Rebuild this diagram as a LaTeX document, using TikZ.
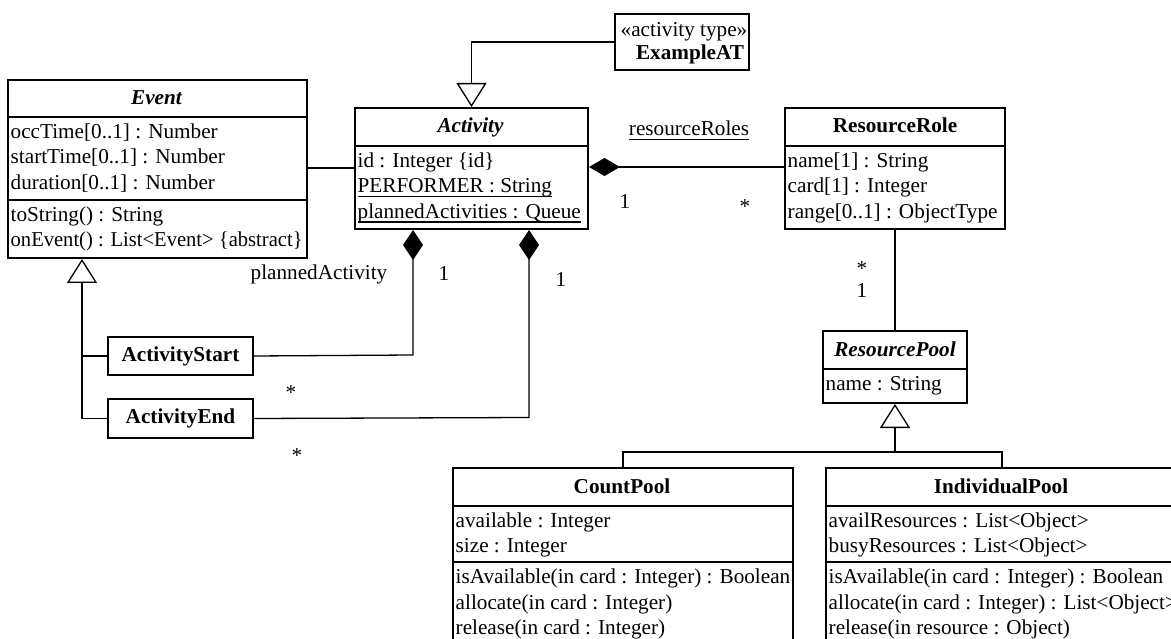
\documentclass[tikz,border=0pt]{standalone}
\usepackage{fontspec}
\setmainfont{Liberation Serif}
\usetikzlibrary{arrows.meta}
\begin{document}
\begin{tikzpicture}[x=1pt,y=-1pt,
  font=\fontsize{21.2}{25.5}\selectfont,
  classbox/.style={draw, line width=2pt, inner sep=0pt, anchor=north west},
  txt/.style={inner sep=0pt, anchor=base west},
  lbl/.style={inner sep=0pt, anchor=base},
  ttl/.style={inner sep=0pt, anchor=base, font=\fontsize{21.2}{25.5}\selectfont\bfseries},
  attl/.style={inner sep=0pt, anchor=base, font=\fontsize{21.2}{25.5}\selectfont\bfseries\itshape},
  sepline/.style={line width=2pt},
  assoc/.style={line width=1.3pt},
  uline/.style={line width=1.3pt},
  gen/.style={assoc, -{Triangle[open,length=24pt,width=30pt]}},
  comp/.style={assoc, {Diamond[length=31pt,width=18pt]}-},
  vcomp/.style={assoc, {Diamond[length=30pt,width=20pt]}-}
]
\useasboundingbox (0,0) rectangle (1171,639);
\clip (0,0) rectangle (1171,639);

% ---------- Event ----------
\node[classbox, minimum width=299pt, minimum height=178pt] (event) at (7,79) {};
\draw[sepline] (event.west |- 0,117) -- (event.east |- 0,117);
\draw[sepline] (event.west |- 0,200) -- (event.east |- 0,200);
\node[attl] (event-t) at (156.5,105) {Event};
\node[txt] (event-a1) at (10.5,138.5) {occTime[0..1] : Number};
\node[txt] (event-a2) at (10.5,164) {startTime[0..1] : Number};
\node[txt] (event-a3) at (10.5,189.5) {duration[0..1] : Number};
\node[txt] (event-m1) at (10.5,221.5) {toString() : String};
\node[txt] (event-m2) at (10.5,247) {\scalebox{0.97}[1]{onEvent() : List<Event> \{abstract\}}};

% ---------- Activity ----------
\node[classbox, minimum width=233pt, minimum height=121pt] (activity) at (354,107) {};
\draw[sepline] (activity.west |- 0,146) -- (activity.east |- 0,146);
\node[attl] (activity-t) at (470.5,133) {Activity};
\node[txt] (activity-a1) at (357.5,167.5) {id : Integer \{id\}};
\node[txt] (activity-a2) at (357.5,193) {PERFORMER : String};
\node[txt] (activity-a3) at (357.5,218.5) {plannedActivities : Queue};
\draw[uline] ([yshift=-3.5pt]activity-a2.base west) -- ([yshift=-3.5pt]activity-a2.base east);
\draw[uline] ([yshift=-3.5pt]activity-a3.base west) -- ([yshift=-3.5pt]activity-a3.base east);

% ---------- ExampleAT ----------
\node[classbox, minimum width=134pt, minimum height=56pt] (exat) at (614,13) {};
\node[lbl] (exat-s) at (684,37) {«activity type»};
\node[ttl] (exat-t) at (690,60) {ExampleAT};

% ---------- ResourceRole ----------
\node[classbox, minimum width=220pt, minimum height=121pt] (resrole) at (784,107) {};
\draw[sepline] (resrole.west |- 0,146) -- (resrole.east |- 0,146);
\node[ttl] (resrole-t) at (895,133) {ResourceRole};
\node[txt] (resrole-a1) at (787.5,167.5) {name[1] : String};
\node[txt] (resrole-a2) at (787.5,193) {card[1] : Integer};
\node[txt] (resrole-a3) at (787.5,218.5) {range[0..1] : ObjectType};

% ---------- ResourcePool ----------
\node[classbox, minimum width=144pt, minimum height=72pt] (rpool) at (822,330) {};
\draw[sepline] (rpool.west |- 0,369) -- (rpool.east |- 0,369);
\node[attl] (rpool-t) at (895,356) {ResourcePool};
\node[txt] (rpool-a1) at (825.5,390.5) {name : String};

% ---------- CountPool ----------
\node[classbox, minimum width=340pt, minimum height=200pt] (cpool) at (452,467) {};
\draw[sepline] (cpool.west |- 0,505.5) -- (cpool.east |- 0,505.5);
\draw[sepline] (cpool.west |- 0,562) -- (cpool.east |- 0,562);
\node[ttl] (cpool-t) at (622,493) {CountPool};
\node[txt] (cpool-a1) at (455.5,527) {available : Integer};
\node[txt] (cpool-a2) at (455.5,552.5) {size : Integer};
\node[txt] (cpool-m1) at (455.5,583.5) {isAvailable(in card : Integer) : Boolean};
\node[txt] (cpool-m2) at (455.5,609) {allocate(in card : Integer)};
\node[txt] (cpool-m3) at (455.5,634.5) {release(in card : Integer)};

% ---------- IndividualPool ----------
\node[classbox, minimum width=352pt, minimum height=200pt] (ipool) at (825,467) {};
\draw[sepline] (ipool.west |- 0,505.5) -- (ipool.east |- 0,505.5);
\draw[sepline] (ipool.west |- 0,562) -- (ipool.east |- 0,562);
\node[ttl] (ipool-t) at (1001,493) {IndividualPool};
\node[txt] (ipool-a1) at (828.5,527) {availResources : List<Object>};
\node[txt] (ipool-a2) at (828.5,552.5) {busyResources : List<Object>};
\node[txt] (ipool-m1) at (828.5,583.5) {isAvailable(in card : Integer) : Boolean};
\node[txt] (ipool-m2) at (828.5,609) {allocate(in card : Integer) : List<Object>};
\node[txt] (ipool-m3) at (828.5,634.5) {release(in resource : Object)};

% ---------- ActivityStart / ActivityEnd ----------
\node[classbox, minimum width=145pt, minimum height=38pt, font=\fontsize{21.2}{25.5}\selectfont\bfseries] (astart) at (107,336) {ActivityStart};
\node[classbox, minimum width=145pt, minimum height=39pt, font=\fontsize{21.2}{25.5}\selectfont\bfseries] (aend) at (107,398) {ActivityEnd};

% ---------- connectors ----------
\draw[assoc] (event.east |- 0,168) -- (activity.west |- 0,168);
\draw[gen] (exat.west) -| (activity.north);
\draw[comp] (activity.east |- 0,167) -- (resrole.west |- 0,167);

\coordinate (pa1) at (413,355);
\coordinate (pa2) at (529,417.5);
\draw[vcomp] (activity.south -| pa1) -- (pa1) -- (astart.east);
\draw[vcomp] (activity.south -| pa2) -- (pa2) -- (aend.east);

\coordinate (gx) at (82,0);
\draw[assoc] (astart.west) -- (astart.west -| gx);
\draw[gen] (aend.west) -| (event.south -| gx);

\draw[assoc] (resrole.south) -- (rpool.north);
\coordinate (hbar) at (rpool.south |- 0,452);
\draw[gen] (cpool.north) |- (hbar) -- (rpool.south);
\draw[assoc] (ipool.north) |- (hbar);

% ---------- association labels ----------
\node[lbl] (rr-name) at (689,136) {resourceRoles};
\draw[uline] ([yshift=-3.5pt]rr-name.base west) -- ([yshift=-3.5pt]rr-name.base east);
\node[lbl] (rr-m1) at (625,209) {1};
\node[lbl] (rr-m2) at (745,214) {*};
\node[lbl] (pa-name) at (319,280) {plannedActivity};
\node[lbl] (pa-m1) at (444,281) {1};
\node[lbl] (pa-m2) at (561,287) {1};
\node[lbl] (pa-m3) at (291,399) {*};
\node[lbl] (pa-m4) at (297,462) {*};
\node[lbl] (rp-m1) at (862,276) {*};
\node[lbl] (rp-m2) at (862,298) {1};
\end{tikzpicture}
\end{document}
